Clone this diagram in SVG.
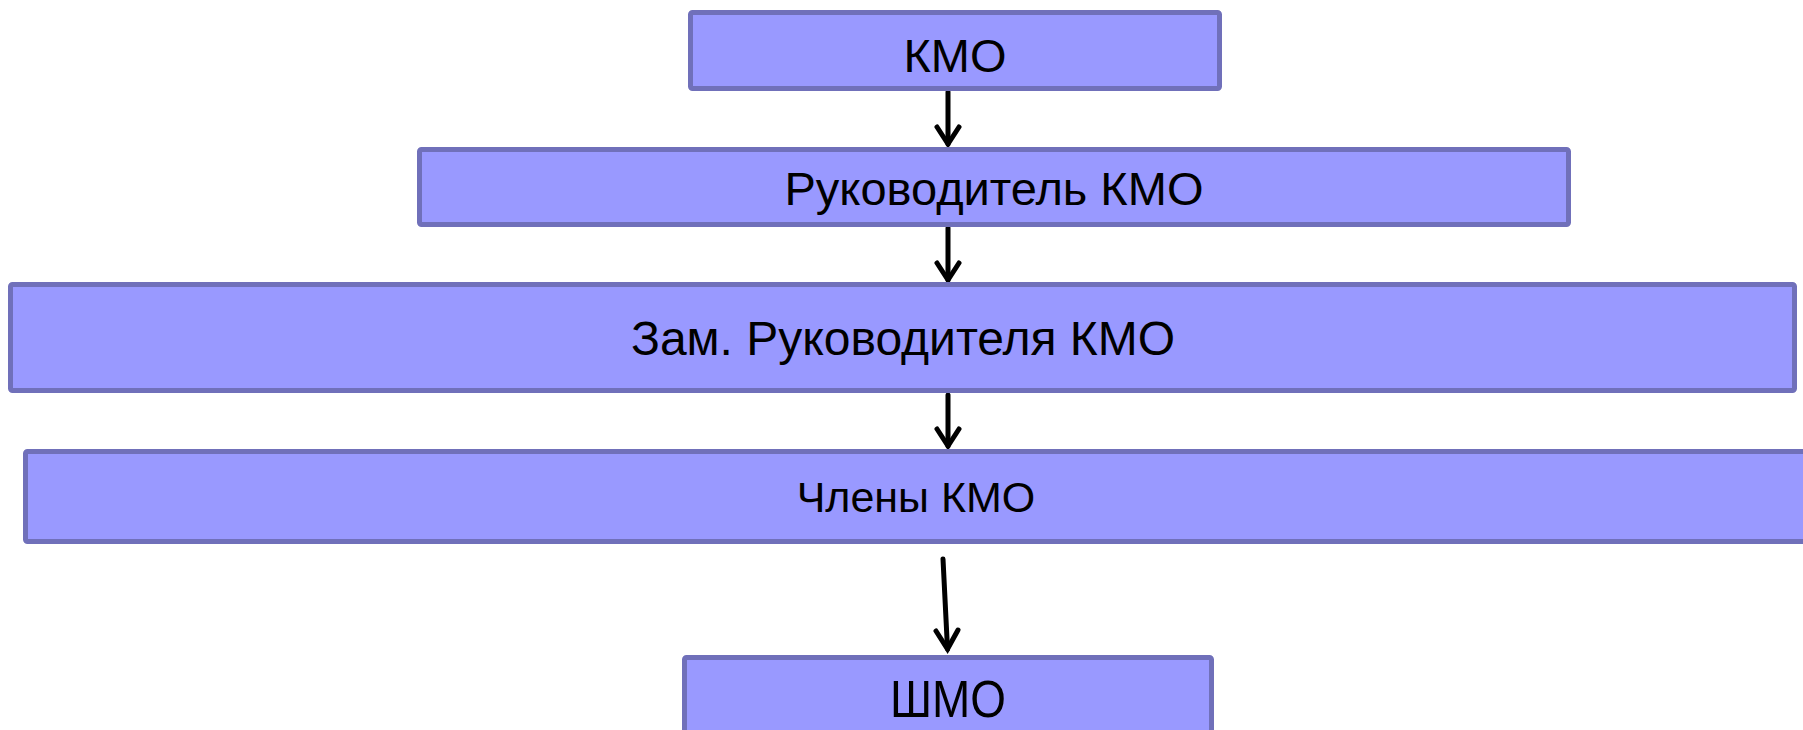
<svg xmlns="http://www.w3.org/2000/svg" width="1803" height="730" viewBox="0 0 1803 730">
<style>
.box{fill:#9999FF;stroke:#7070BA;stroke-width:5}
.lbl{font-family:"Liberation Sans",Arial,sans-serif;fill:#000;text-anchor:middle}
.ln{stroke:#000;stroke-width:5;fill:none;stroke-linecap:round;stroke-linejoin:miter}
</style>
<rect width="1803" height="730" fill="#FFFFFF"/>
<g id="connectors">
<line class="ln" x1="948" y1="92" x2="948" y2="144"/>
<polyline class="ln" points="937,127 948,144 959,127"/>
<line class="ln" x1="948" y1="228" x2="948" y2="280"/>
<polyline class="ln" points="937,263 948,280 959,263"/>
<line class="ln" x1="948" y1="395" x2="948" y2="446"/>
<polyline class="ln" points="937,429 948,446 959,429"/>
<line class="ln" x1="943" y1="559" x2="947.5" y2="649"/>
<polyline class="ln" points="936,631 947.5,649 958,630"/>
</g>
<g id="node-kmo">
<rect class="box" x="690.5" y="12.5" width="529" height="76" rx="2"/>
<text class="lbl" x="955" y="72" font-size="47" textLength="103" lengthAdjust="spacingAndGlyphs">КМО</text>
</g>
<g id="node-rukovoditel">
<rect class="box" x="419.5" y="149.5" width="1149" height="75" rx="2"/>
<text class="lbl" x="994" y="205" font-size="47">Руководитель КМО</text>
</g>
<g id="node-zam">
<rect class="box" x="10.5" y="284.5" width="1784" height="106" rx="2"/>
<text class="lbl" x="903" y="355" font-size="48">Зам. Руководителя КМО</text>
</g>
<g id="node-chleny">
<rect class="box" x="25.5" y="451.5" width="1790" height="90" rx="2"/>
<text class="lbl" x="916" y="512" font-size="43">Члены КМО</text>
</g>
<g id="node-shmo">
<rect class="box" x="684.5" y="657.5" width="527" height="90" rx="2"/>
<text class="lbl" x="948" y="717" font-size="52" textLength="116" lengthAdjust="spacingAndGlyphs">ШМО</text>
</g>
</svg>
